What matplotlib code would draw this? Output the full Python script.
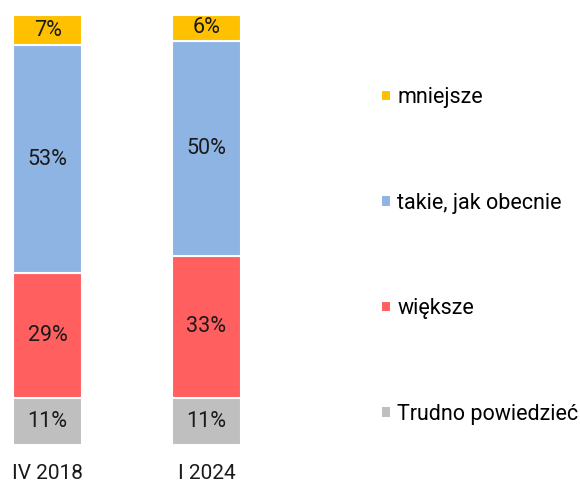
import matplotlib.pyplot as plt
import numpy as np

plt.rcParams['font.family'] = ['Roboto', 'DejaVu Sans']

periods = ['IV 2018', 'I 2024']
categories = ['Trudno powiedzieć', 'większe', 'takie, jak obecnie', 'mniejsze']
values = {
    'Trudno powiedzieć': [11, 11],
    'większe': [29, 33],
    'takie, jak obecnie': [53, 50],
    'mniejsze': [7, 6],
}
colors = ['#BFBFBF', '#FF5F5F', '#8EB4E3', '#FFC000']

fig = plt.figure(figsize=(5.8, 4.82), dpi=100)
ax = fig.add_axes([0, 37 / 482, 254 / 580, 430 / 482])

x = np.arange(len(periods))
bottom = np.zeros(len(periods))
for cat, col in zip(categories, colors):
    v = np.array(values[cat])
    bars = ax.bar(x, v, 0.43, bottom=bottom, color=col, edgecolor='white',
                  linewidth=1.5, label=cat)
    ax.bar_label(bars, labels=[f'{n}%' for n in v], label_type='center',
                 fontsize=15.5, color='#1a1a1a')
    bottom += v

ax.set_xlim(-0.3, 1.3)
ax.set_ylim(0, 100)
ax.set_xticks(x)
ax.set_xticklabels(periods, fontsize=15, color='#1a1a1a')
ax.tick_params(axis='x', length=0, pad=14)
ax.set_yticks([])
for s in ax.spines.values():
    s.set_visible(False)

h, l = ax.get_legend_handles_labels()
fig.legend(h[::-1], l[::-1], loc='upper left', bbox_to_anchor=(381 / 580, 1 - 87 / 482),
           frameon=False, fontsize=15.5, handlelength=0.45, handleheight=0.45,
           handletextpad=0.3, labelspacing=3.93, borderaxespad=0, borderpad=0)

fig.savefig('out.png', dpi=100)
